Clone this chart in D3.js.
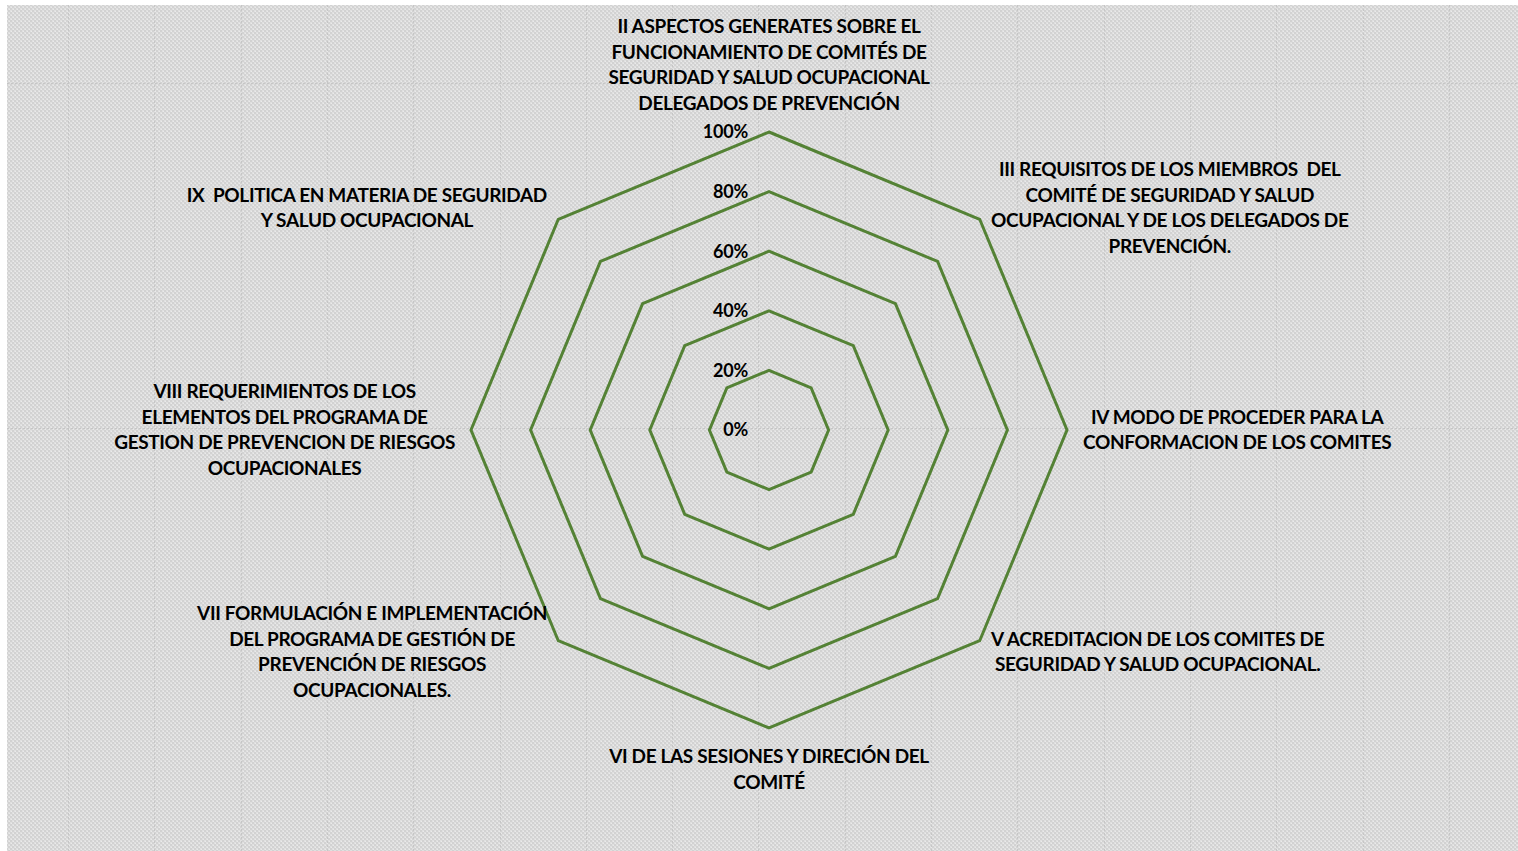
<!DOCTYPE html>
<html><head><meta charset="utf-8">
<script src="https://cdn.jsdelivr.net/npm/d3@7"></script>
<style>html,body{margin:0;padding:0;background:#fff;overflow:hidden}</style>
</head>
<body><svg id="c" width="1518" height="851"></svg>
<script>
const categories = [
  "II ASPECTOS GENERATES SOBRE EL\nFUNCIONAMIENTO DE COMITÉS DE\nSEGURIDAD Y SALUD OCUPACIONAL\nDELEGADOS DE PREVENCIÓN",
  "III REQUISITOS DE LOS MIEMBROS  DEL\nCOMITÉ DE SEGURIDAD Y SALUD\nOCUPACIONAL Y DE LOS DELEGADOS DE\nPREVENCIÓN.",
  "IV MODO DE PROCEDER PARA LA\nCONFORMACION DE LOS COMITES",
  "V ACREDITACION DE LOS COMITES DE\nSEGURIDAD Y SALUD OCUPACIONAL.",
  "VI DE LAS SESIONES Y DIRECIÓN DEL\nCOMITÉ",
  "VII FORMULACIÓN E IMPLEMENTACIÓN\nDEL PROGRAMA DE GESTIÓN DE\nPREVENCIÓN DE RIESGOS\nOCUPACIONALES.",
  "VIII REQUERIMIENTOS DE LOS\nELEMENTOS DEL PROGRAMA DE\nGESTION DE PREVENCION DE RIESGOS\nOCUPACIONALES",
  "IX  POLITICA EN MATERIA DE SEGURIDAD\nY SALUD OCUPACIONAL"
];
const tickValues = [0, 0.2, 0.4, 0.6, 0.8, 1.0];
const tickLabels = ["0%", "20%", "40%", "60%", "80%", "100%"];

const W = 1518, H = 851;
const cx = 769, cy = 430, R = 298;
const svg = d3.select("#c");

// background pattern
const defs = svg.append("defs");
const pat = defs.append("pattern").attr("id", "bgp").attr("width", 4).attr("height", 4)
  .attr("patternUnits", "userSpaceOnUse");
pat.append("rect").attr("width", 4).attr("height", 4).attr("fill", "#d2d2d2");
pat.append("rect").attr("x", 0).attr("y", 0).attr("width", 2).attr("height", 2).attr("fill", "#e0e0e0");
pat.append("rect").attr("x", 2).attr("y", 2).attr("width", 2).attr("height", 2).attr("fill", "#e0e0e0");
pat.append("rect").attr("x", 1).attr("y", 1).attr("width", 1).attr("height", 1).attr("fill", "#eaeaea");
pat.append("rect").attr("x", 3).attr("y", 3).attr("width", 1).attr("height", 1).attr("fill", "#eaeaea");
svg.append("rect").attr("x", 7).attr("y", 5).attr("width", W - 7).attr("height", H - 5).attr("fill", "url(#bgp)");

// faint worksheet gridlines
const gl = svg.append("g").attr("stroke", "#c6c6c6").attr("stroke-width", 1).attr("stroke-dasharray", "2,2");
d3.range(68, W, 86.3).forEach(x => gl.append("line").attr("x1", Math.round(x) + 0.5).attr("x2", Math.round(x) + 0.5).attr("y1", 5).attr("y2", H));
[83, 428].forEach(y => gl.append("line").attr("x1", 7).attr("x2", W).attr("y1", y + 0.5).attr("y2", y + 0.5));

const r = d3.scaleLinear().domain([0, 1]).range([0, R]);
const n = categories.length;
const ang = d3.scaleLinear().domain([0, n]).range([0, 2 * Math.PI]);

const g = svg.append("g").attr("transform", `translate(${cx},${cy})`);

const ring = d3.lineRadial().angle((d, i) => ang(i)).radius(d => r(d)).curve(d3.curveLinearClosed);
g.selectAll("path.ring").data(tickValues.filter(v => v > 0)).join("path")
  .attr("class", "ring")
  .attr("d", v => ring(d3.range(n).map(() => v)))
  .attr("fill", "none").attr("stroke", "#548235").attr("stroke-width", 3).attr("stroke-linejoin", "miter");

const FONT = "Lato, 'Open Sans', sans-serif";
// tick labels
g.selectAll("text.tick").data(tickValues).join("text")
  .attr("class", "tick")
  .attr("x", -21).attr("y", v => -r(v))
  .attr("dy", "0.35em")
  .attr("text-anchor", "end")
  .attr("font-family", FONT).attr("font-weight", 700).attr("font-size", 18)
  .attr("letter-spacing", "-0.2px")
  .attr("fill", "#000")
  .text((v, i) => tickLabels[i]);

// category labels
const LH = 25.5, FS = 19, pad = 16;
categories.forEach((c, i) => {
  const lines = c.split("\n");
  const a = ang(i);
  const s = Math.sin(a), co = -Math.cos(a);
  const ax = (R + pad) * s, ay = (R + pad) * co;
  const t = g.append("text")
    .attr("font-family", FONT).attr("font-weight", 700).attr("font-size", FS)
    .attr("letter-spacing", "-0.35px")
    .attr("fill", "#000").attr("text-anchor", "middle").style("white-space", "pre");
  lines.forEach((l, k) => t.append("tspan").attr("x", 0).attr("y", k * LH).attr("dy", "0.35em").text(l));
  let w = 0;
  t.selectAll("tspan").each(function () { w = Math.max(w, this.getComputedTextLength()); });
  const hBlock = lines.length * LH;
  let x = ax, y;
  if (s > 0.01) x = ax + w / 2; else if (s < -0.01) x = ax - w / 2;
  if (Math.abs(s) < 0.01 && co < 0) y = ay - hBlock + LH / 2;
  else if (Math.abs(s) < 0.01 && co > 0) y = ay + LH / 2;
  else y = ay - hBlock / 2 + LH / 2;
  t.attr("transform", `translate(${x},${y})`);
});
</script>
</body></html>
